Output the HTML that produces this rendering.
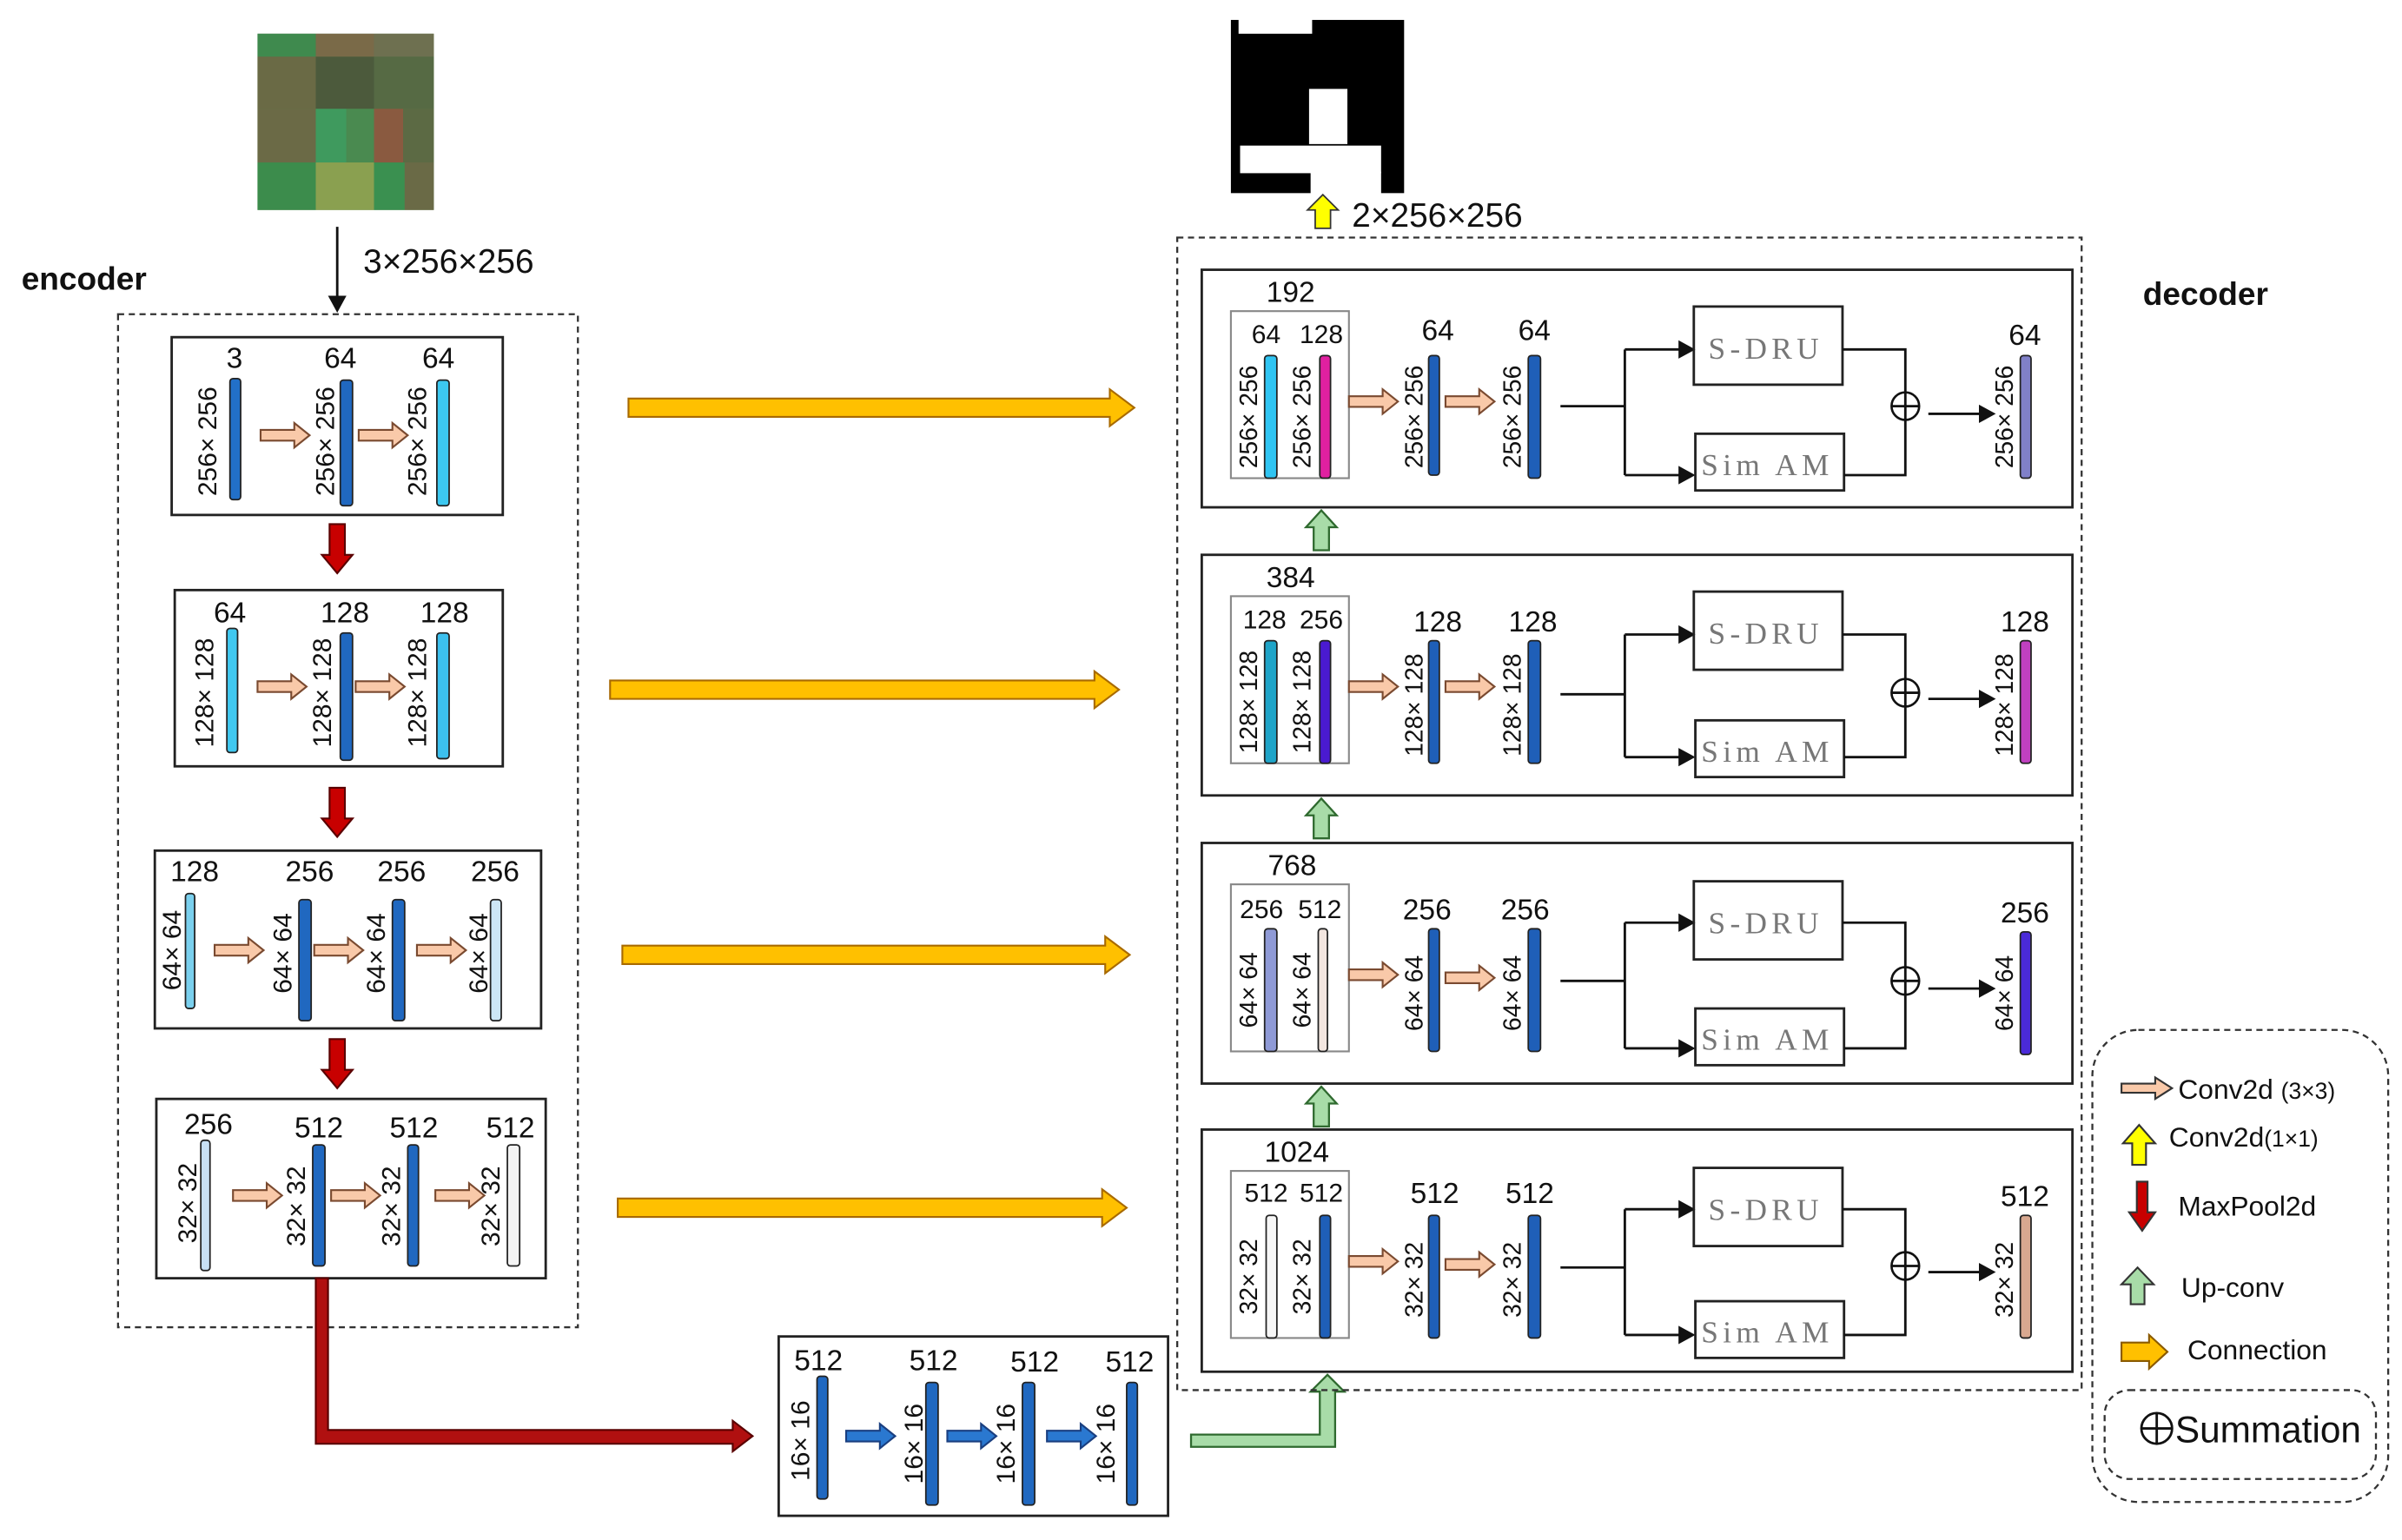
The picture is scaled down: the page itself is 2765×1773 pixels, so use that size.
<!DOCTYPE html>
<html><head><meta charset="utf-8"><style>
html,body{margin:0;padding:0;background:#fff}
svg{display:block}
text{font-family:"Liberation Sans",sans-serif;fill:#111}
.n{font-size:19px;text-anchor:middle}
.s{font-size:17px;text-anchor:middle}
.r{font-size:16px;text-anchor:middle}
.sv{font-family:"Liberation Serif",serif;font-size:20px;fill:#777;text-anchor:middle;letter-spacing:3px}
.bx{fill:none;stroke:#222;stroke-width:1.6}
.ln{stroke:#111;stroke-width:1.6;fill:none}
.bar{stroke:#222;stroke-width:1}
</style></head><body>
<svg width="2765" height="1773" viewBox="0 0 1567 1004.8" preserveAspectRatio="none" xmlns="http://www.w3.org/2000/svg">
<defs>
<polygon id="pa" points="0,-3.5 22,-3.5 22,-8 32,0 22,8 22,3.5 0,3.5" fill="#f9c9a9" stroke="#7a4a30" stroke-width="1.2"/>
<polygon id="ba" points="0,-3.5 22,-3.5 22,-8 32,0 22,8 22,3.5 0,3.5" fill="#2a78d0" stroke="#1a3f80" stroke-width="1.2"/>
<polygon id="rd" points="-5,0 5,0 5,20 10,20 0,32 -10,20 -5,20" fill="#c80000" stroke="#5a0000" stroke-width="1.2"/>
<polygon id="gu" points="-5,26 5,26 5,11 10,11 0,0 -10,11 -5,11" fill="#a8dca8" stroke="#2f6a2f" stroke-width="1.3"/>
<polygon id="ah" points="0,0 -11,-6 -11,6" fill="#111"/>
</defs>

<g>
<rect x="168" y="22" width="115" height="115" fill="#5a7a48"/>
<rect x="168" y="22" width="38" height="15" fill="#3f8a4e"/>
<rect x="206" y="22" width="38" height="15" fill="#7a6a48"/>
<rect x="244" y="22" width="39" height="15" fill="#6e7050"/>
<rect x="168" y="37" width="38" height="34" fill="#6a6a45"/>
<rect x="206" y="37" width="38" height="34" fill="#4c5a3c"/>
<rect x="244" y="37" width="39" height="34" fill="#566a44"/>
<rect x="168" y="71" width="38" height="35" fill="#6b6a46"/>
<rect x="206" y="71" width="20" height="35" fill="#3f9a5e"/>
<rect x="226" y="71" width="18" height="35" fill="#4a8a50"/>
<rect x="244" y="71" width="19" height="35" fill="#8a5a40"/>
<rect x="263" y="71" width="20" height="35" fill="#5c6a44"/>
<rect x="168" y="106" width="38" height="31" fill="#3c8c4c"/>
<rect x="206" y="106" width="38" height="31" fill="#8aa050"/>
<rect x="244" y="106" width="20" height="31" fill="#3a9050"/>
<rect x="264" y="106" width="19" height="31" fill="#6a6a46"/>
</g>
<line x1="220" y1="148" x2="220" y2="194" class="ln"/>
<use href="#ah" transform="translate(220,204) rotate(90)"/>
<text x="237" y="178" style="font-size:22px">3×256×256</text>
<text x="14" y="189" style="font-size:21px;font-weight:bold">encoder</text>

<rect x="77" y="205" width="300" height="661" fill="none" stroke="#333" stroke-width="1.3" stroke-dasharray="4,3"/>

<rect x="112" y="220" width="216" height="116" class="bx"/>
<text class="n" x="153" y="240">3</text><text class="n" x="222" y="240">64</text><text class="n" x="286" y="240">64</text>
<rect class="bar" x="150" y="247" width="7" height="79" rx="2" fill="#2270c8"/>
<rect class="bar" x="222" y="248" width="8" height="82" rx="2" fill="#2068c0"/>
<rect class="bar" x="285" y="248" width="8" height="82" rx="2" fill="#3cc8f0"/>
<text class="s" transform="translate(141,288) rotate(-90)">256× 256</text>
<text class="s" transform="translate(218,288) rotate(-90)">256× 256</text>
<text class="s" transform="translate(278,288) rotate(-90)">256× 256</text>
<use href="#pa" x="170" y="284"/><use href="#pa" x="234" y="284"/>
<use href="#rd" x="220" y="342"/>

<rect x="114" y="385" width="214" height="115" class="bx"/>
<text class="n" x="150" y="406">64</text><text class="n" x="225" y="406">128</text><text class="n" x="290" y="406">128</text>
<rect class="bar" x="148" y="410" width="7" height="81" rx="2" fill="#40c8f0"/>
<rect class="bar" x="222" y="413" width="8" height="83" rx="2" fill="#2068c0"/>
<rect class="bar" x="285" y="413" width="8" height="82" rx="2" fill="#3cc0ee"/>
<text class="s" transform="translate(139,452) rotate(-90)">128× 128</text>
<text class="s" transform="translate(216,452) rotate(-90)">128× 128</text>
<text class="s" transform="translate(278,452) rotate(-90)">128× 128</text>
<use href="#pa" x="168" y="448"/><use href="#pa" x="232" y="448"/>
<use href="#rd" x="220" y="514"/>

<rect x="101" y="555" width="252" height="116" class="bx"/>
<text class="n" x="127" y="575">128</text><text class="n" x="202" y="575">256</text><text class="n" x="262" y="575">256</text><text class="n" x="323" y="575">256</text>
<rect class="bar" x="121" y="583" width="6" height="75" rx="2" fill="#7ad0ee"/>
<rect class="bar" x="195" y="587" width="8" height="79" rx="2" fill="#2068c0"/>
<rect class="bar" x="256" y="587" width="8" height="79" rx="2" fill="#2068c0"/>
<rect class="bar" x="320" y="587" width="7" height="79" rx="2" fill="#cce6f6"/>
<text class="s" transform="translate(118,620) rotate(-90)">64× 64</text>
<text class="s" transform="translate(190,622) rotate(-90)">64× 64</text>
<text class="s" transform="translate(251,622) rotate(-90)">64× 64</text>
<text class="s" transform="translate(318,622) rotate(-90)">64× 64</text>
<use href="#pa" x="140" y="620"/><use href="#pa" x="205" y="620"/><use href="#pa" x="272" y="620"/>
<use href="#rd" x="220" y="678"/>

<rect x="102" y="717" width="254" height="117" class="bx"/>
<text class="n" x="136" y="740">256</text><text class="n" x="208" y="742">512</text><text class="n" x="270" y="742">512</text><text class="n" x="333" y="742">512</text>
<rect class="bar" x="131" y="744" width="6" height="85" rx="2" fill="#c8e0f4"/>
<rect class="bar" x="204" y="747" width="8" height="79" rx="2" fill="#2068c0"/>
<rect class="bar" x="266" y="747" width="7" height="79" rx="2" fill="#2068c0"/>
<rect class="bar" x="331" y="747" width="8" height="79" rx="2" fill="#f4f4f4"/>
<text class="s" transform="translate(128,785) rotate(-90)">32× 32</text>
<text class="s" transform="translate(199,787) rotate(-90)">32× 32</text>
<text class="s" transform="translate(261,787) rotate(-90)">32× 32</text>
<text class="s" transform="translate(326,787) rotate(-90)">32× 32</text>
<use href="#pa" x="152" y="780"/><use href="#pa" x="216" y="780"/><use href="#pa" x="284" y="780"/>

<polygon points="206,834 214,834 214,933 478,933 478,927 491,937 478,947 478,942 206,942" fill="#b01010" stroke="#5a0000" stroke-width="1.2"/>

<rect x="508" y="872" width="254" height="117" class="bx"/>
<text class="n" x="534" y="894">512</text><text class="n" x="609" y="894">512</text><text class="n" x="675" y="895">512</text><text class="n" x="737" y="895">512</text>
<rect class="bar" x="533" y="898" width="7" height="80" rx="2" fill="#2068c0"/>
<rect class="bar" x="604" y="902" width="8" height="80" rx="2" fill="#2068c0"/>
<rect class="bar" x="667" y="902" width="8" height="80" rx="2" fill="#2068c0"/>
<rect class="bar" x="735" y="902" width="7" height="80" rx="2" fill="#2068c0"/>
<text class="s" transform="translate(528,940) rotate(-90)">16× 16</text>
<text class="s" transform="translate(602,942) rotate(-90)">16× 16</text>
<text class="s" transform="translate(662,942) rotate(-90)">16× 16</text>
<text class="s" transform="translate(727,942) rotate(-90)">16× 16</text>
<use href="#ba" x="552" y="937"/><use href="#ba" x="618" y="937"/><use href="#ba" x="683" y="937"/>

<polygon points="777,936 861,936 861,908 855,908 866,897 877,908 871,908 871,944 777,944" fill="#a8dca8" stroke="#2f6a2f" stroke-width="1.3"/>

<polygon points="410,260 724,260 724,254 740,266 724,278 724,272 410,272" fill="#ffc000" stroke="#a86a00" stroke-width="1.2"/>
<polygon points="398,444 714,444 714,438 730,450 714,462 714,456 398,456" fill="#ffc000" stroke="#a86a00" stroke-width="1.2"/>
<polygon points="406,617 721,617 721,611 737,623 721,635 721,629 406,629" fill="#ffc000" stroke="#a86a00" stroke-width="1.2"/>
<polygon points="403,782 719,782 719,776 735,788 719,800 719,794 403,794" fill="#ffc000" stroke="#a86a00" stroke-width="1.2"/>

<rect x="803" y="13" width="113" height="113" fill="#000"/>
<rect x="808" y="12" width="48" height="10" fill="#fff"/>
<rect x="854" y="58" width="25" height="36" fill="#fff"/>
<rect x="809" y="95" width="92" height="18" fill="#fff"/>
<rect x="855" y="112" width="46" height="15" fill="#fff"/>
<polygon points="858,149 868,149 868,137 873,137 863,127 853,137 858,137" fill="#ffff00" stroke="#333" stroke-width="1"/>
<text x="882" y="148" style="font-size:22px">2×256×256</text>
<text x="1398" y="199" style="font-size:21px;font-weight:bold">decoder</text>

<rect x="768" y="155" width="590" height="752" fill="none" stroke="#333" stroke-width="1.3" stroke-dasharray="4,3"/>

<g transform="translate(0,176)">
<rect x="784" y="0" width="568" height="155" class="bx"/>
<text class="n" x="842" y="21">192</text>
<rect x="803" y="27" width="77" height="109" fill="none" stroke="#888" stroke-width="1.2"/>
<text class="s" x="826" y="48">64</text><text class="s" x="862" y="48">128</text>
<rect class="bar" x="825" y="56" width="8" height="80" rx="2" fill="#2fc4f2"/>
<rect class="bar" x="861" y="56" width="7" height="80" rx="2" fill="#e020a0"/>
<text class="r" transform="translate(820,96) rotate(-90)">256× 256</text>
<text class="r" transform="translate(855,96) rotate(-90)">256× 256</text>
<use href="#pa" x="880" y="86"/><use href="#pa" x="943" y="86"/>
<text class="n" x="938" y="46">64</text><text class="n" x="1001" y="46">64</text>
<rect class="bar" x="932" y="56" width="7" height="78" rx="2" fill="#1f5fb8"/>
<rect class="bar" x="997" y="56" width="8" height="80" rx="2" fill="#1f5fb8"/>
<text class="r" transform="translate(928,96) rotate(-90)">256× 256</text>
<text class="r" transform="translate(992,96) rotate(-90)">256× 256</text>
<line x1="1018" y1="89" x2="1060" y2="89" class="ln"/>
<line x1="1060" y1="52" x2="1060" y2="134" class="ln"/>
<line x1="1060" y1="52" x2="1096" y2="52" class="ln"/><use href="#ah" x="1106" y="52"/>
<line x1="1060" y1="134" x2="1096" y2="134" class="ln"/><use href="#ah" x="1106" y="134"/>
<rect x="1105" y="24" width="97" height="51" class="bx"/><text class="sv" x="1152" y="58">S-DRU</text>
<rect x="1106" y="107" width="97" height="37" class="bx"/><text class="sv" x="1153" y="134">Sim AM</text>
<polyline points="1202,52 1243,52 1243,134 1203,134" class="ln"/>
<circle cx="1243" cy="89" r="9" fill="#fff" stroke="#111" stroke-width="1.5"/>
<line x1="1234" y1="89" x2="1252" y2="89" class="ln"/><line x1="1243" y1="80" x2="1243" y2="98" class="ln"/>
<line x1="1258" y1="94" x2="1292" y2="94" class="ln"/><use href="#ah" x="1302" y="94"/>
<text class="n" x="1321" y="49">64</text>
<rect class="bar" x="1318" y="56" width="7" height="80" rx="2" fill="#8080c8"/>
<text class="r" transform="translate(1313,96) rotate(-90)">256× 256</text>
</g>
<use href="#gu" x="862" y="333"/>

<g transform="translate(0,362)">
<rect x="784" y="0" width="568" height="157" class="bx"/>
<text class="n" x="842" y="21">384</text>
<rect x="803" y="27" width="77" height="109" fill="none" stroke="#888" stroke-width="1.2"/>
<text class="s" x="825" y="48">128</text><text class="s" x="862" y="48">256</text>
<rect class="bar" x="825" y="56" width="8" height="80" rx="2" fill="#1fa4c8"/>
<rect class="bar" x="861" y="56" width="7" height="80" rx="2" fill="#4a1ad0"/>
<text class="r" transform="translate(820,96) rotate(-90)">128× 128</text>
<text class="r" transform="translate(855,96) rotate(-90)">128× 128</text>
<use href="#pa" x="880" y="86"/><use href="#pa" x="943" y="86"/>
<text class="n" x="938" y="50">128</text><text class="n" x="1000" y="50">128</text>
<rect class="bar" x="932" y="56" width="7" height="80" rx="2" fill="#1f5fb8"/>
<rect class="bar" x="997" y="56" width="8" height="80" rx="2" fill="#1f5fb8"/>
<text class="r" transform="translate(928,98) rotate(-90)">128× 128</text>
<text class="r" transform="translate(992,98) rotate(-90)">128× 128</text>
<line x1="1018" y1="91" x2="1060" y2="91" class="ln"/>
<line x1="1060" y1="52" x2="1060" y2="132" class="ln"/>
<line x1="1060" y1="52" x2="1096" y2="52" class="ln"/><use href="#ah" x="1106" y="52"/>
<line x1="1060" y1="132" x2="1096" y2="132" class="ln"/><use href="#ah" x="1106" y="132"/>
<rect x="1105" y="24" width="97" height="51" class="bx"/><text class="sv" x="1152" y="58">S-DRU</text>
<rect x="1106" y="108" width="97" height="37" class="bx"/><text class="sv" x="1153" y="135">Sim AM</text>
<polyline points="1202,52 1243,52 1243,132 1203,132" class="ln"/>
<circle cx="1243" cy="90" r="9" fill="#fff" stroke="#111" stroke-width="1.5"/>
<line x1="1234" y1="90" x2="1252" y2="90" class="ln"/><line x1="1243" y1="81" x2="1243" y2="99" class="ln"/>
<line x1="1258" y1="94" x2="1292" y2="94" class="ln"/><use href="#ah" x="1302" y="94"/>
<text class="n" x="1321" y="50">128</text>
<rect class="bar" x="1318" y="56" width="7" height="80" rx="2" fill="#c040c0"/>
<text class="r" transform="translate(1313,98) rotate(-90)">128× 128</text>
</g>
<use href="#gu" x="862" y="521"/>

<g transform="translate(0,550)">
<rect x="784" y="0" width="568" height="157" class="bx"/>
<text class="n" x="843" y="21">768</text>
<rect x="803" y="27" width="77" height="109" fill="none" stroke="#888" stroke-width="1.2"/>
<text class="s" x="823" y="49">256</text><text class="s" x="861" y="49">512</text>
<rect class="bar" x="825" y="56" width="8" height="80" rx="2" fill="#8f9ad6"/>
<rect class="bar" x="860" y="56" width="6" height="80" rx="2" fill="#f3e6e0"/>
<text class="r" transform="translate(820,96) rotate(-90)">64× 64</text>
<text class="r" transform="translate(855,96) rotate(-90)">64× 64</text>
<use href="#pa" x="880" y="86"/><use href="#pa" x="943" y="88"/>
<text class="n" x="931" y="50">256</text><text class="n" x="995" y="50">256</text>
<rect class="bar" x="932" y="56" width="7" height="80" rx="2" fill="#1f5fb8"/>
<rect class="bar" x="997" y="56" width="8" height="80" rx="2" fill="#1f5fb8"/>
<text class="r" transform="translate(928,98) rotate(-90)">64× 64</text>
<text class="r" transform="translate(992,98) rotate(-90)">64× 64</text>
<line x1="1018" y1="90" x2="1060" y2="90" class="ln"/>
<line x1="1060" y1="52" x2="1060" y2="134" class="ln"/>
<line x1="1060" y1="52" x2="1096" y2="52" class="ln"/><use href="#ah" x="1106" y="52"/>
<line x1="1060" y1="134" x2="1096" y2="134" class="ln"/><use href="#ah" x="1106" y="134"/>
<rect x="1105" y="25" width="97" height="51" class="bx"/><text class="sv" x="1152" y="59">S-DRU</text>
<rect x="1106" y="108" width="97" height="37" class="bx"/><text class="sv" x="1153" y="135">Sim AM</text>
<polyline points="1202,52 1243,52 1243,134 1203,134" class="ln"/>
<circle cx="1243" cy="90" r="9" fill="#fff" stroke="#111" stroke-width="1.5"/>
<line x1="1234" y1="90" x2="1252" y2="90" class="ln"/><line x1="1243" y1="81" x2="1243" y2="99" class="ln"/>
<line x1="1258" y1="95" x2="1292" y2="95" class="ln"/><use href="#ah" x="1302" y="95"/>
<text class="n" x="1321" y="52">256</text>
<rect class="bar" x="1318" y="58" width="7" height="80" rx="2" fill="#4a2ad8"/>
<text class="r" transform="translate(1313,98) rotate(-90)">64× 64</text>
</g>
<use href="#gu" x="862" y="709"/>

<g transform="translate(0,737)">
<rect x="784" y="0" width="568" height="158" class="bx"/>
<text class="n" x="846" y="21">1024</text>
<rect x="803" y="27" width="77" height="109" fill="none" stroke="#888" stroke-width="1.2"/>
<text class="s" x="826" y="47">512</text><text class="s" x="862" y="47">512</text>
<rect class="bar" x="826" y="56" width="7" height="80" rx="2" fill="#f6f6f6"/>
<rect class="bar" x="861" y="56" width="7" height="80" rx="2" fill="#1f5fb8"/>
<text class="r" transform="translate(820,96) rotate(-90)">32× 32</text>
<text class="r" transform="translate(855,96) rotate(-90)">32× 32</text>
<use href="#pa" x="880" y="86"/><use href="#pa" x="943" y="88"/>
<text class="n" x="936" y="48">512</text><text class="n" x="998" y="48">512</text>
<rect class="bar" x="932" y="56" width="7" height="80" rx="2" fill="#1f5fb8"/>
<rect class="bar" x="997" y="56" width="8" height="80" rx="2" fill="#1f5fb8"/>
<text class="r" transform="translate(928,98) rotate(-90)">32× 32</text>
<text class="r" transform="translate(992,98) rotate(-90)">32× 32</text>
<line x1="1018" y1="90" x2="1060" y2="90" class="ln"/>
<line x1="1060" y1="52" x2="1060" y2="134" class="ln"/>
<line x1="1060" y1="52" x2="1096" y2="52" class="ln"/><use href="#ah" x="1106" y="52"/>
<line x1="1060" y1="134" x2="1096" y2="134" class="ln"/><use href="#ah" x="1106" y="134"/>
<rect x="1105" y="25" width="97" height="51" class="bx"/><text class="sv" x="1152" y="59">S-DRU</text>
<rect x="1106" y="112" width="97" height="37" class="bx"/><text class="sv" x="1153" y="139">Sim AM</text>
<polyline points="1202,52 1243,52 1243,134 1203,134" class="ln"/>
<circle cx="1243" cy="89" r="9" fill="#fff" stroke="#111" stroke-width="1.5"/>
<line x1="1234" y1="89" x2="1252" y2="89" class="ln"/><line x1="1243" y1="80" x2="1243" y2="98" class="ln"/>
<line x1="1258" y1="93" x2="1292" y2="93" class="ln"/><use href="#ah" x="1302" y="93"/>
<text class="n" x="1321" y="50">512</text>
<rect class="bar" x="1318" y="56" width="7" height="80" rx="2" fill="#d8a890"/>
<text class="r" transform="translate(1313,98) rotate(-90)">32× 32</text>
</g>

<rect x="1365" y="672" width="193" height="308" rx="30" fill="none" stroke="#333" stroke-width="1.3" stroke-dasharray="4,3"/>
<rect x="1373" y="907" width="177" height="58" rx="16" fill="none" stroke="#333" stroke-width="1.3" stroke-dasharray="4,3"/>
<polygon points="1384,707 1406,707 1406,703 1417,710 1406,717 1406,713 1384,713" fill="#f9c9a9" stroke="#333" stroke-width="1.2"/>
<text x="1421" y="717" style="font-size:18px">Conv2d <tspan style="font-size:15px">(3×3)</tspan></text>
<polygon points="1391,760 1400,760 1400,746 1406,746 1395.5,734 1385,746 1391,746" fill="#ffff00" stroke="#333" stroke-width="1.2"/>
<text x="1415" y="748" style="font-size:18px">Conv2d<tspan style="font-size:15px">(1×1)</tspan></text>
<polygon points="1394,771 1401,771 1401,791 1406,791 1397.5,803 1389,791 1394,791" fill="#c80000" stroke="#333" stroke-width="1.2"/>
<text x="1421" y="793" style="font-size:18px">MaxPool2d</text>
<polygon points="1390,851 1399,851 1399,838 1405,838 1394.5,827 1384,838 1390,838" fill="#a8dca8" stroke="#333" stroke-width="1.2"/>
<text x="1423" y="846" style="font-size:18px">Up-conv</text>
<polygon points="1384,876 1402,876 1402,871 1414,882 1402,893 1402,888 1384,888" fill="#ffc000" stroke="#8a5a00" stroke-width="1.2"/>
<text x="1427" y="887" style="font-size:18px">Connection</text>
<circle cx="1407" cy="932" r="10" fill="none" stroke="#111" stroke-width="1.6"/>
<line x1="1397" y1="932" x2="1417" y2="932" class="ln"/><line x1="1407" y1="922" x2="1407" y2="942" class="ln"/>
<text x="1419" y="941" style="font-size:24px">Summation</text>
</svg>
</body></html>
